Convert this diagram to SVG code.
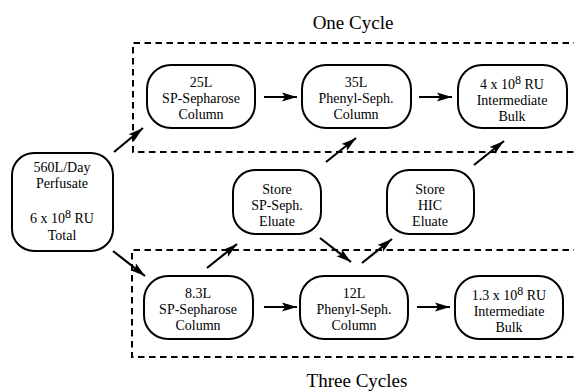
<svg xmlns="http://www.w3.org/2000/svg" width="574" height="392" viewBox="0 0 574 392">
<defs>
<style>
.box{fill:#fff;stroke:#000;stroke-width:2}
.dash{fill:none;stroke:#000;stroke-width:2;stroke-dasharray:6.5 4.5}
.t{font-family:'Liberation Serif',serif;font-size:14px;text-anchor:middle;fill:#000}
.lbl{font-family:'Liberation Serif',serif;font-size:19px;text-anchor:middle;fill:#000}
.arr{stroke:#000;stroke-width:2.2;fill:none;marker-end:url(#ah)}
.sup{font-size:12px}
</style>
<marker id="ah" markerUnits="userSpaceOnUse" markerWidth="16" markerHeight="10" refX="15" refY="5" orient="auto">
<path d="M0,0.6 L15,5 L0,9.4 L3,5 z" fill="#000"/>
</marker>
</defs>
<rect width="574" height="392" fill="#fff"/>
<g id="frames">
<path class="dash" d="M580,43 H133 V152 H580"/>
<path class="dash" d="M580,250 H132 V357 H580"/>
</g>
<text class="lbl" x="353" y="29">One Cycle</text>
<text class="lbl" x="357" y="387">Three Cycles</text>
<g id="perfusate">
<rect class="box" x="12" y="153" width="101" height="98" rx="22"/>
<text class="t" x="62" y="172">560L/Day</text>
<text class="t" x="62" y="188">Perfusate</text>
<text class="t" x="62" y="223">6 x 10<tspan class="sup" dy="-5">8</tspan><tspan dy="5"> RU</tspan></text>
<text class="t" x="62" y="240">Total</text>
</g>
<g id="sp25">
<rect class="box" x="147" y="65" width="108" height="63" rx="24"/>
<text class="t" x="201" y="87">25L</text>
<text class="t" x="201" y="103">SP-Sepharose</text>
<text class="t" x="201" y="119">Column</text>
</g>
<g id="ph35">
<rect class="box" x="302" y="65" width="109" height="63" rx="24"/>
<text class="t" x="356" y="87">35L</text>
<text class="t" x="356" y="103">Phenyl-Seph.</text>
<text class="t" x="356" y="119">Column</text>
</g>
<g id="bulk1">
<rect class="box" x="458" y="65" width="109" height="63" rx="24"/>
<text class="t" x="512" y="89">4 x 10<tspan class="sup" dy="-5">8</tspan><tspan dy="5"> RU</tspan></text>
<text class="t" x="512" y="105">Intermediate</text>
<text class="t" x="512" y="121">Bulk</text>
</g>
<g id="storeSP">
<rect class="box" x="233" y="170" width="88" height="64" rx="22"/>
<text class="t" x="277" y="194">Store</text>
<text class="t" x="277" y="210">SP-Seph.</text>
<text class="t" x="277" y="226">Eluate</text>
</g>
<g id="storeHIC">
<rect class="box" x="387" y="170" width="87" height="64" rx="22"/>
<text class="t" x="430" y="194">Store</text>
<text class="t" x="430" y="210">HIC</text>
<text class="t" x="430" y="226">Eluate</text>
</g>
<g id="sp83">
<rect class="box" x="144" y="276" width="109" height="63" rx="24"/>
<text class="t" x="198" y="298">8.3L</text>
<text class="t" x="198" y="314">SP-Sepharose</text>
<text class="t" x="198" y="330">Column</text>
</g>
<g id="ph12">
<rect class="box" x="300" y="276" width="108" height="63" rx="24"/>
<text class="t" x="354" y="298">12L</text>
<text class="t" x="354" y="314">Phenyl-Seph.</text>
<text class="t" x="354" y="330">Column</text>
</g>
<g id="bulk3">
<rect class="box" x="455" y="276" width="108" height="63" rx="24"/>
<text class="t" x="509" y="300">1.3 x 10<tspan class="sup" dy="-5">8</tspan><tspan dy="5"> RU</tspan></text>
<text class="t" x="509" y="316">Intermediate</text>
<text class="t" x="509" y="332">Bulk</text>
</g>
<g id="connectors">
<line class="arr" x1="114" y1="152" x2="143" y2="128"/>
<line class="arr" x1="264" y1="97" x2="297" y2="97"/>
<line class="arr" x1="419" y1="97" x2="452" y2="97"/>
<line class="arr" x1="326" y1="162" x2="356" y2="138"/>
<line class="arr" x1="474" y1="165" x2="504" y2="141"/>
<line class="arr" x1="113" y1="251" x2="145" y2="276"/>
<line class="arr" x1="207" y1="268" x2="237" y2="244"/>
<line class="arr" x1="320" y1="238" x2="351" y2="262"/>
<line class="arr" x1="362" y1="263" x2="392" y2="239"/>
<line class="arr" x1="264" y1="307" x2="297" y2="307"/>
<line class="arr" x1="417" y1="307" x2="450" y2="307"/>
</g>
</svg>
